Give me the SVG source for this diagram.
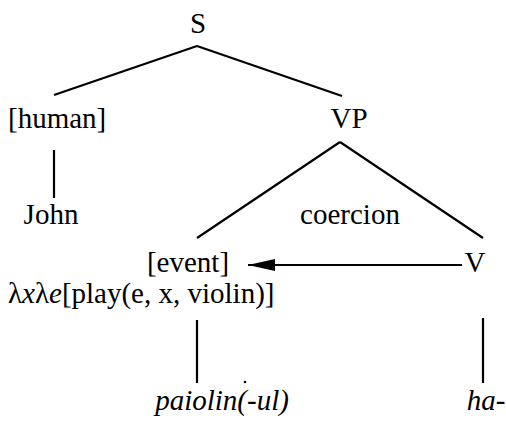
<svg xmlns="http://www.w3.org/2000/svg" width="506" height="421" viewBox="0 0 506 421">
<defs>
<style>
text{font-family:'Liberation Serif','Times New Roman',serif;font-size:29px;fill:#000}
.i{font-style:italic}
.e{stroke:#000;stroke-width:2.2;fill:none;stroke-linecap:butt}
</style>
<marker id="ah" viewBox="0 0 10 10" refX="10" refY="5" markerWidth="27" markerHeight="12" markerUnits="userSpaceOnUse" orient="auto" preserveAspectRatio="none">
<path d="M0,0L10,5L0,10z" fill="#000"/>
</marker>
</defs>
<rect width="506" height="421" fill="#fff"/>
<g id="connectors">
<line class="e" x1="197" y1="46" x2="54" y2="95"/>
<line class="e" x1="197" y1="46" x2="342" y2="96"/>
<line class="e" x1="54" y1="150" x2="54" y2="198"/>
<line class="e" x1="340" y1="142" x2="197" y2="238"/>
<line class="e" x1="340" y1="142" x2="483" y2="238"/>
<line class="e" x1="462" y1="265" x2="248" y2="265" marker-end="url(#ah)"/>
<line class="e" x1="197" y1="320" x2="197" y2="383"/>
<line class="e" x1="483" y1="318" x2="483" y2="383"/>
</g>
<g id="S"><text x="198" y="33" text-anchor="middle">S</text></g>
<g id="human"><text x="8" y="128">[human]</text></g>
<g id="VP"><text x="349" y="128" text-anchor="middle">VP</text></g>
<g id="John"><text x="51" y="224" text-anchor="middle">John</text></g>
<g id="coercion"><text x="350" y="224" text-anchor="middle">coercion</text></g>
<g id="event"><text x="188" y="272" text-anchor="middle">[event]</text></g>
<g id="V"><text x="475" y="272" text-anchor="middle">V</text></g>
<g id="lambda"><text x="8" y="303">λ<tspan class="i">x</tspan>λ<tspan class="i">e</tspan>[play(e, x, violin)]</text></g>
<g id="paiolin"><text class="i" x="222" y="410" text-anchor="middle">paiolin(-ul)</text></g>
<g id="ha"><text class="i" x="486" y="410" text-anchor="middle">ha-</text></g>
<circle cx="245" cy="382" r="1.3" fill="#000"/>
</svg>
